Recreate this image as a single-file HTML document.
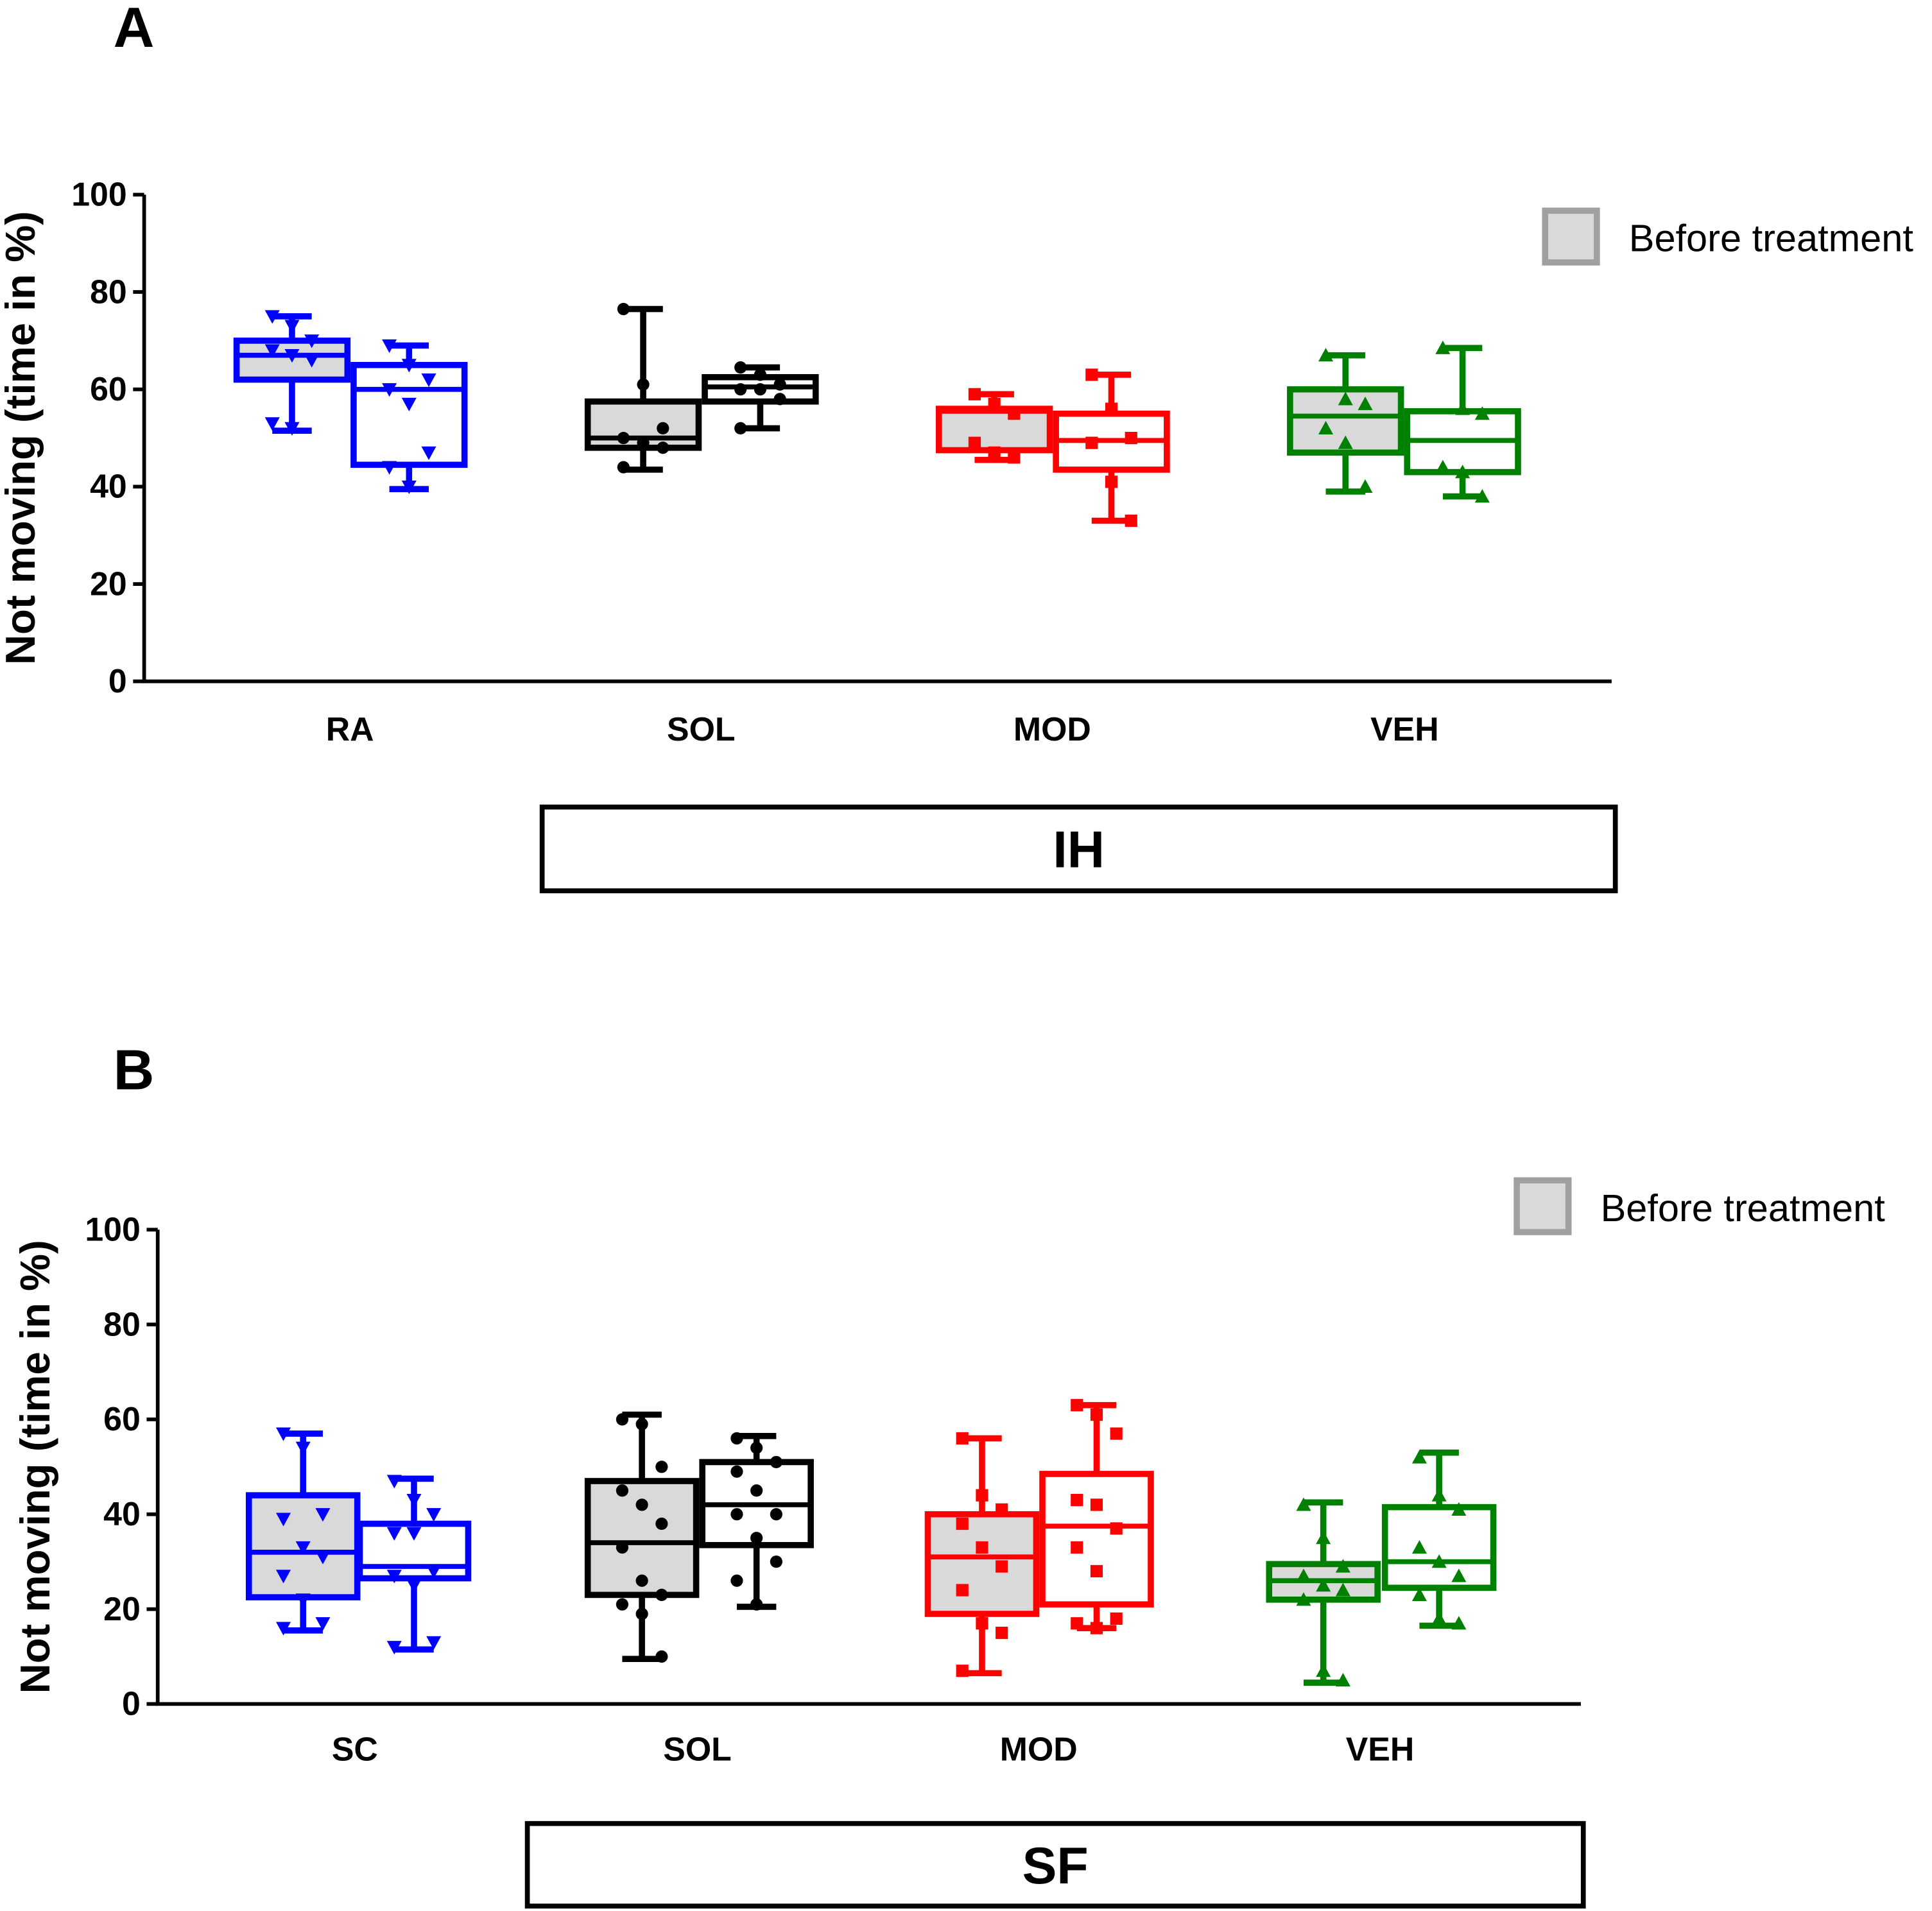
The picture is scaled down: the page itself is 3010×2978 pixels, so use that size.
<!DOCTYPE html>
<html><head><meta charset="utf-8">
<style>html,body{margin:0;padding:0;background:#fff}svg{display:block}text{font-family:"Liberation Sans",Arial,sans-serif}</style>
</head><body>
<svg id="chart" width="3010" height="2978" viewBox="0 0 1568 1551" preserveAspectRatio="none" xmlns="http://www.w3.org/2000/svg"></svg>
<script>
// Panel A data
const catsA = ["RA","SOL","MOD","VEH"];
const statsA = [ // [min,q1,median,q3,max]
 [51.5,62,67,70,75],[39.5,44.5,60,65,69],
 [43.5,48,50,57.5,76.5],[52,57.5,60.5,62.5,64.5],
 [45.5,47.5,55.5,56,59],[33,43.5,49.5,55,63],
 [39,47,54.5,60,67],[38,43,49.5,55.5,68.5]];
const pointsA = [
 [75,73,70,68,67,66,53,52],[69,65,62,60,57,47,44,40],
 [76.5,61,52,50,49,48,44],[64.5,63,61,60,60,58,52],
 [59,57,55,49,47,46],[63,56,50,49,41,33],
 [67,58,57,52,49,40],[68.5,56,55,44,43,38]];
// Panel B data
const catsB = ["SC","SOL","MOD","VEH"];
const statsB = [
 [15.5,22.5,32,44,57],[11.5,26.5,29,38,47.5],
 [9.5,23,34,47,61],[20.5,33.5,42,51,56.5],
 [6.5,19,31,40,56],[16,21,37.5,48.5,63],
 [4.5,22,26,29.5,42.5],[16.5,24.5,30,41.5,53]];
const pointsB = [
 [57,54,40,39,33,31,27,22,17,16],[47,43,40,36,36,28,27,25,13,12],
 [60,59,50,45,42,38,33,26,23,21,19,10],[56,54,51,49,45,40,40,35,30,26,21],
 [56,44,41,38,33,29,24,17,15,7],[63,61,57,43,42,37,33,28,18,17,16],
 [42,35,29,27,25,24,22,7,5],[52,44,41,33,30,27,23,18,17]];
const yTicks = [0,20,40,60,80,100];
const colors = ["#0000ff","#000000","#ff0000","#008000"];
const shapes = ["tri-down","circle","square","tri-up"];

const NS="http://www.w3.org/2000/svg";
const svg=document.getElementById('chart');
function mk(tag,attrs,parent){const e=document.createElementNS(NS,tag);for(const k in attrs)e.setAttribute(k,attrs[k]);(parent||svg).appendChild(e);return e;}

function panel(cfg){
  const g=mk('g',{});
  
  
  const y=v=>cfg.y0+(cfg.y100-cfg.y0)*v/100;
  const ax=mk('path',{d:`M${cfg.ax},${cfg.y100} V${cfg.y0} H${cfg.axEnd}`,stroke:'#000','stroke-width':3,fill:'none'},g);
  
  
  yTicks.forEach(t=>{
    mk('line',{x1:cfg.ax-9,x2:cfg.ax,y1:y(t),y2:y(t),stroke:'#000','stroke-width':3},g);
    const tx=mk('text',{x:cfg.ax-14,y:y(t)+9,'font-size':27,'font-weight':'bold','text-anchor':'end'},g);
    tx.textContent=t;
    
    
  });
  const yl=mk('text',{transform:`translate(${cfg.ylx},${(cfg.y0+cfg.y100)/2}) rotate(-90)`,'font-size':34,'font-weight':'bold','text-anchor':'middle'},g);
  yl.textContent='Not moving (time in %)';
  
  
  const pl=mk('text',{x:cfg.lx,y:cfg.ly,'font-size':46,'font-weight':'bold'},g);
  pl.textContent=cfg.letter;
  
  
  cfg.cats.forEach((c,i)=>{
    const t=mk('text',{x:cfg.catX[i],y:cfg.catY,'font-size':27,'font-weight':'bold','text-anchor':'middle'},g);
    t.textContent=c;
    
    
  });
  cfg.stats.forEach((s,k)=>{
    const gi=Math.floor(k/2), after=k%2===1;
    const col=colors[gi];
    const x0=cfg.boxX[k], w=cfg.boxW, cx=x0+w/2;
    const bg=mk('g',{},g);
    
    
    mk('line',{x1:cx,x2:cx,y1:y(s[0]),y2:y(s[4]),stroke:col,'stroke-width':5},bg);
    mk('line',{x1:cx-16,x2:cx+16,y1:y(s[0]),y2:y(s[0]),stroke:col,'stroke-width':5},bg);
    mk('line',{x1:cx-16,x2:cx+16,y1:y(s[4]),y2:y(s[4]),stroke:col,'stroke-width':5},bg);
    mk('rect',{x:x0,y:y(s[3]),width:w,height:y(s[1])-y(s[3]),fill:after?'#fff':'#d9d9d9',stroke:col,'stroke-width':5},bg);
    mk('line',{x1:x0,x2:x0+w,y1:y(s[2]),y2:y(s[2]),stroke:col,'stroke-width':4},bg);
    cfg.pts[k].forEach((v,j)=>{
      const px=cx+((j%3)-1)*16, py=y(v), sh=shapes[gi];
      let m;
      if(sh==='circle') m=mk('circle',{cx:px,cy:py,r:5,fill:col},bg);
      else if(sh==='square') m=mk('rect',{x:px-5,y:py-5,width:10,height:10,fill:col},bg);
      else if(sh==='tri-down') m=mk('path',{d:`M${px-6},${py-5}H${px+6}L${px},${py+6}Z`,fill:col},bg);
      else m=mk('path',{d:`M${px-6},${py+5}H${px+6}L${px},${py-6}Z`,fill:col},bg);
      
      
    });
  });
  const lg=mk('g',{},g);
  
  
  mk('rect',{x:cfg.legX,y:cfg.legY,width:42,height:42,fill:'#d9d9d9',stroke:'#a0a0a0','stroke-width':5},lg);
  const lt=mk('text',{x:cfg.legX+68,y:cfg.legY+33,'font-size':31},lg);
  lt.textContent='Before treatment';
  const gb=mk('g',{},g);
  
  
  mk('rect',{x:cfg.gb[0],y:cfg.gb[1],width:cfg.gb[2]-cfg.gb[0],height:cfg.gb[3]-cfg.gb[1],fill:'none',stroke:'#000','stroke-width':4},gb);
  const gt=mk('text',{x:(cfg.gb[0]+cfg.gb[2])/2,y:(cfg.gb[1]+cfg.gb[3])/2+15,'font-size':42,'font-weight':'bold','text-anchor':'middle'},gb);
  gt.textContent=cfg.group;
}
panel({name:'panel-a',letter:'A',lx:92,ly:38,ax:117,axEnd:1308,y0:553,y100:158,ylx:28,
  cats:catsA,catX:[284,569,854,1140],catY:601,stats:statsA,pts:pointsA,
  boxX:[192,287,477,572,762,857,1047,1142],boxW:90,legX:1254,legY:171,gb:[440,655,1311,723],group:'IH'});
panel({name:'panel-b',letter:'B',lx:92,ly:884,ax:128,axEnd:1283,y0:1383,y100:998,ylx:40,
  cats:catsB,catX:[288,566,843,1120],catY:1429,stats:statsB,pts:pointsB,
  boxX:[202,292,477,570,753,846,1030,1124],boxW:88,legX:1231,legY:958,gb:[428,1480,1285,1547],group:'SF'});
</script>
</body></html>
